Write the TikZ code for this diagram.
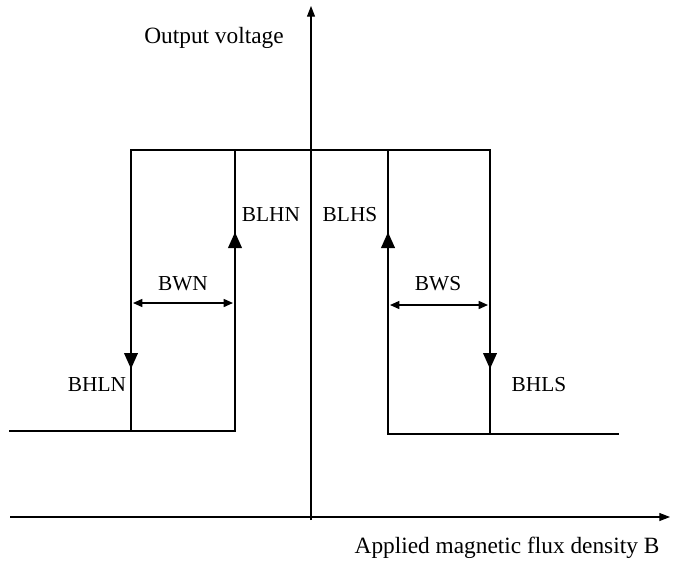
\documentclass[tikz,border=0pt]{standalone}
\usepackage{fontspec}
\setmainfont{Liberation Serif}
\usetikzlibrary{arrows.meta}

\begin{document}
\begin{tikzpicture}[x=0.75pt, y=-0.75pt,
		curve/.style={line width=2.1pt, line cap=rect},
		flow/.style={line width=2.1pt, -{Triangle[length=12pt, width=10pt]}},
		axis/.style={line width=0.8pt, -{Triangle[length=8pt, width=6pt]}},
		gap/.style={line width=1.1pt, {Triangle[length=7pt, width=6pt]}-{Triangle[length=7pt, width=6pt]}},
		lbl/.style={font=\fontsize{17.5}{20}\selectfont, inner sep=0pt},
		tag/.style={font=\fontsize{16}{19}\selectfont, inner sep=0pt}]

		\useasboundingbox (0,0) rectangle (680,565);

		% Axes
		\coordinate (xs) at (10,517);
		\coordinate (xe) at (670,517);
		\coordinate (ys) at (311,520);
		\coordinate (ye) at (311,6);
		\draw [axis] (xs) -- (xe);
		\draw [axis] (ys) -- (ye);

		% Loop N
		\coordinate (tl) at (131,150);
		\coordinate (tr) at (490,150);
		\draw [curve] (10,431) -- (235,431);
		\draw [curve] (tl) -- (tr);
		\draw [flow] (tl) -- (131,369);
		\draw [curve] (131,360) -- (131,431);
		\draw [flow] (235,431) -- (235,232);
		\draw [curve] (235,240) -- (235,150);

		% Loop S
		\draw [curve] (388,434) -- (618,434);
		\draw [flow] (388,434) -- (388,232);
		\draw [curve] (388,240) -- (388,150);
		\draw [flow] (tr) -- (490,369);
		\draw [curve] (490,360) -- (490,434);

		% Widths
		\draw [gap] (133,303) -- (233,303);
		\draw [gap] (390,305) -- (488,305);

		% Text
		\node [lbl] (yl) at (214,38) {Output voltage};
		\node [lbl] (xl) at (507,548) {Applied magnetic flux density B};
		\node [tag] (bwn) at (183,284) {BWN};
		\node [tag] (bws) at (438,284) {BWS};
		\node [tag] (blhn) at (271,215) {BLHN};
		\node [tag] (blhs) at (350,215) {BLHS};
		\node [tag] (bhln) at (97,385) {BHLN};
		\node [tag] (bhls) at (539,385) {BHLS};

	\end{tikzpicture}
\end{document}
